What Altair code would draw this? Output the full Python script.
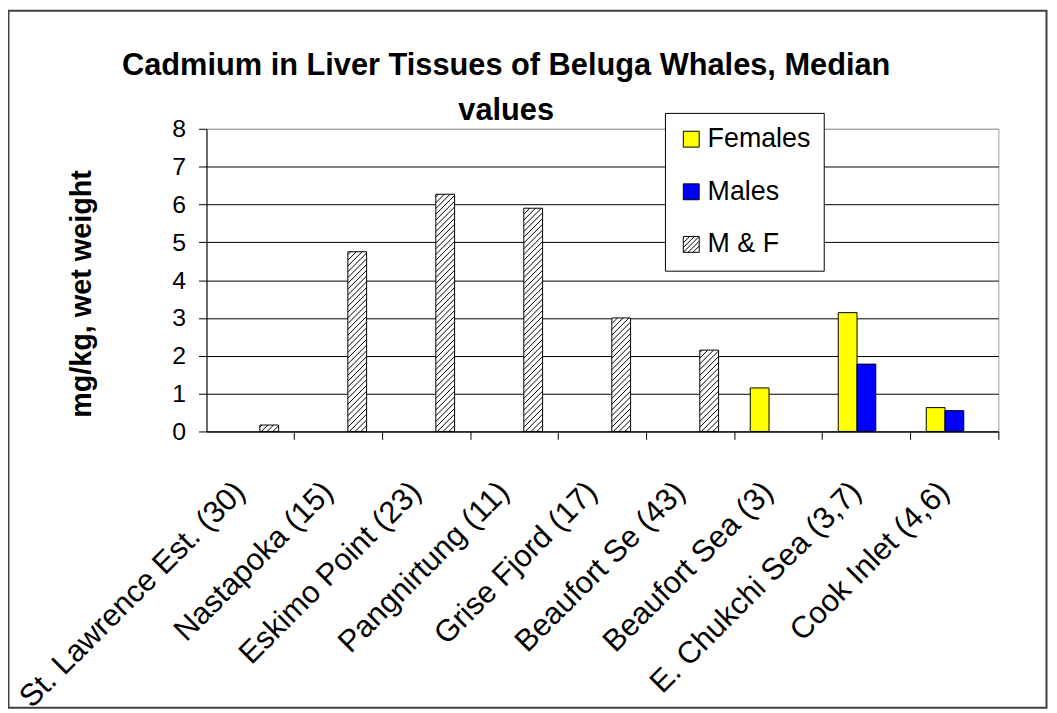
import altair as alt
import pandas as pd

# ---- data ----
categories = [
    "St. Lawrence Est. (30)", "Nastapoka (15)", "Eskimo Point (23)",
    "Pangnirtung (11)", "Grise Fjord (17)", "Beaufort Se (43)",
    "Beaufort Sea (3)", "E. Chukchi Sea (3,7)", "Cook Inlet (4,6)",
]
series = ["Females", "Males", "M & F"]
females = [None, None, None, None, None, None, 1.15, 3.14, 0.63]
males = [None, None, None, None, None, None, None, 1.78, 0.55]
m_and_f = [0.17, 4.75, 6.27, 5.9, 3.0, 2.15, None, None, None]
y_ticks = [0, 1, 2, 3, 4, 5, 6, 7, 8]
colors = ["#FFFF00", "#0000FF", "#FFFFFF"]
title_lines = ["Cadmium in Liver Tissues of Beluga Whales, Median", "values"]
y_title = "mg/kg, wet weight"

rows = []
for i, cat in enumerate(categories):
    for s, vals in zip(series, [females, males, m_and_f]):
        v = vals[i]
        if v is not None:
            rows.append({"Location": cat, "Series": s, "value": v, "idx": i})
df = pd.DataFrame(rows)

# ---- layout constants ----
W, H = 798, 305
PAD_L, PAD_T, PAD_R, PAD_B = 200, 119, 51, 281
P = 0.36                      # band padding (inner)
n = len(categories)
step_px = W / n
bar_px = step_px * (1 - P) / 3
px_per_unit = H / 8
D = bar_px / px_per_unit      # rise across a bar for 45 degree hatch
S = 5.8 / px_per_unit         # vertical spacing of hatch lines
bar_start = P / 2 + 2 * (1 - P) / 3
bar_w = (1 - P) / 3
FONT = "Liberation Sans"

x_scale = alt.Scale(domain=categories, paddingInner=P, paddingOuter=P / 2)
y_scale = alt.Scale(domain=[0, 8], nice=False)
y_axis = alt.Axis(values=y_ticks, tickCount=9, title=y_title,
                  titleFont=FONT, titleFontSize=29, titleFontWeight="bold",
                  titleColor="black", titleX=-126, titleY=166,
                  titleBaseline="middle", titleAngle=-90,
                  labelFontSize=25, labelFont=FONT, labelColor="black",
                  labelPadding=13, labelOverlap=False, tickSize=8, tickColor="black",
                  domainColor="black", grid=True,
                  gridColor=alt.condition("datum.value == 8", alt.value("#a0a0a0"), alt.value("black")),
                  gridWidth=1)

bars = alt.Chart(df).mark_bar(stroke="black", strokeWidth=1).encode(
    x=alt.X("Location:N", sort=categories, scale=x_scale,
            axis=alt.Axis(title=None, labelAngle=-45, labelAlign="right",
                          labelBaseline="middle", labelPadding=48, labelOffset=-10,
                          labelFontSize=31, labelFont=FONT, labelLimit=500,
                          labelOverlap=False, tickSize=8,
                          bandPosition=1 + (P / 2) / (1 - P),
                          domainColor="black", tickColor="black",
                          labelColor="black", grid=False)),
    xOffset=alt.XOffset("Series:N", scale=alt.Scale(domain=series, paddingInner=0, paddingOuter=0)),
    y=alt.Y("value:Q", scale=y_scale, axis=y_axis),
    fill=alt.Fill("Series:N", scale=alt.Scale(domain=series, range=colors), legend=None),
)

hatch = alt.Chart(df[df["Series"] == "M & F"]).transform_calculate(
    k=f"sequence({-D}, datum.value, {S})"
).transform_flatten(["k"]).transform_calculate(
    t0=f"max(0, -datum.k / {D})",
    t1=f"min(1, (datum.value - datum.k) / {D})",
).transform_filter("datum.t1 > datum.t0").transform_calculate(
    hx1=f"datum.idx + {bar_start} + datum.t0 * {bar_w}",
    hx2=f"datum.idx + {bar_start} + datum.t1 * {bar_w}",
    hy1=f"datum.k + {D} * datum.t0",
    hy2=f"datum.k + {D} * datum.t1",
).mark_rule(color="black", strokeWidth=1).encode(
    x=alt.X("hx1:Q", scale=alt.Scale(domain=[0, n], nice=False, zero=False), axis=None),
    x2="hx2:Q",
    y=alt.Y("hy1:Q", scale=y_scale, axis=y_axis),
    y2="hy2:Q",
)

hatch_path = ("M-1,-1H1V1H-1Z M-1,-0.2L-0.2,-1 M-1,0.4L0.4,-1 M-1,1L1,-1 "
              "M-0.4,1L1,-0.4 M0.2,1L1,0.2")
legend_layer = alt.Chart(pd.DataFrame({"Series": series})).transform_filter(
    "false"
).mark_point(filled=False, stroke="black", strokeWidth=1, opacity=1).encode(
    fill=alt.Fill("Series:N", scale=alt.Scale(domain=series, range=colors),
                  legend=alt.Legend(title=None)),
    shape=alt.Shape("Series:N", scale=alt.Scale(domain=series, range=["square", "square", hatch_path]),
                    legend=alt.Legend(title=None)),
)

title_mark = alt.Chart(pd.DataFrame({"t": [0]})).mark_text(
    text=title_lines, font=FONT, fontSize=31, fontWeight="bold", color="black",
    align="center", baseline="alphabetic", lineHeight=45,
).encode(x=alt.value(302), y=alt.value(-54))

frame = alt.Chart(pd.DataFrame({"f": [0]})).mark_rect(
    fillOpacity=0, stroke="#404040", strokeWidth=2
).encode(
    x=alt.value(-199.5), x2=alt.value(846.5),
    y=alt.value(-119), y2=alt.value(583.5),
)

chart = alt.layer(bars, hatch, legend_layer, title_mark, frame).resolve_scale(
    x="independent", fill="independent", shape="independent"
).properties(
    width=W, height=H,
    padding={"left": PAD_L, "top": PAD_T, "right": PAD_R, "bottom": PAD_B},
    autosize=alt.AutoSizeParams(type="none"),
    background="white",
).configure_view(
    stroke="#a0a0a0", strokeWidth=1
).configure_legend(
    orient="none", legendX=462, legendY=-16,
    fillColor="white", strokeColor="black", padding=13, rowPadding=25,
    symbolSize=256, symbolStrokeWidth=1,
    labelFont=FONT, labelFontSize=27, labelColor="black", labelOffset=3,
)

chart.save("out.html", embed_options={"renderer": "svg", "actions": False})
